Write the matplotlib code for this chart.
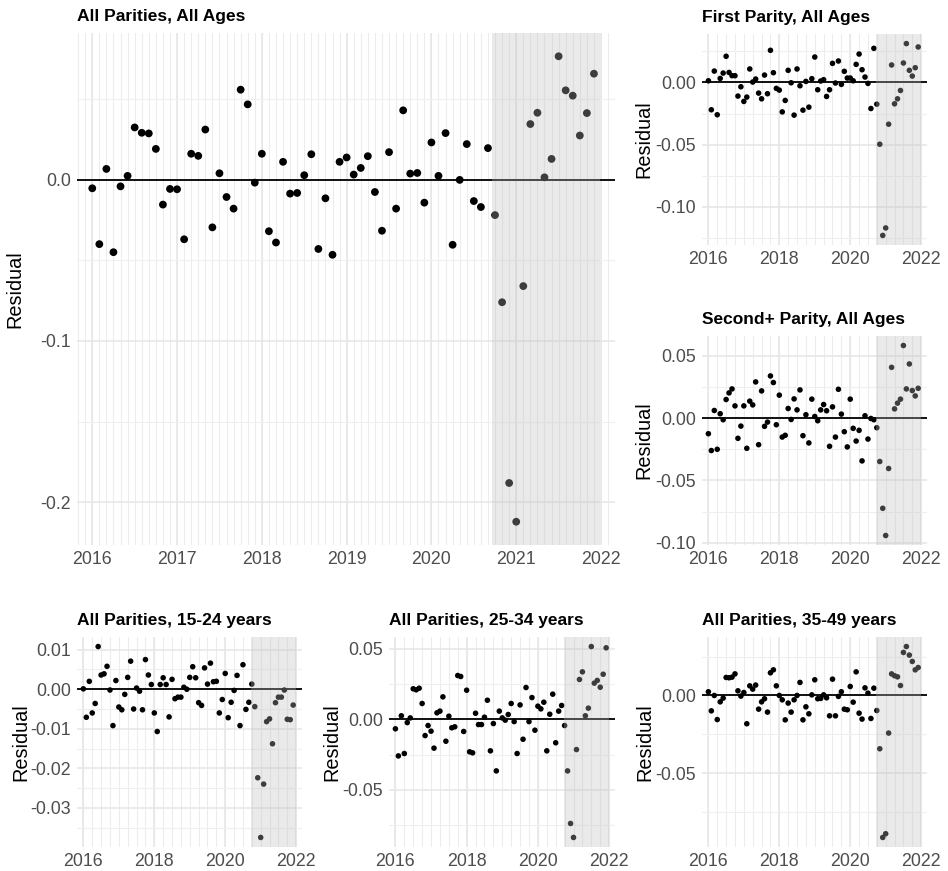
import numpy as np
import matplotlib
matplotlib.use("Agg")
import matplotlib.pyplot as plt

plt.rcParams["font.family"] = ["Liberation Sans", "DejaVu Sans"]

# monthly residuals, Jan 2016 .. Dec 2021
n_months = 72
months = 2016 + np.arange(n_months) / 12

all_all = [
    -0.0054, -0.040, 0.0066, -0.045, -0.0042, 0.0023, 0.0323, 0.029, 0.0286, 0.019, -0.0155, -0.0058,
    -0.006, -0.037, 0.016, 0.0147, 0.031, -0.0296, 0.0039, -0.0108, -0.018, 0.0557, 0.0466, -0.0019,
    0.016, -0.032, -0.039, 0.011, -0.0087, -0.0083, 0.0027, 0.0157, -0.043, -0.0116, -0.0466, 0.011,
    0.0137, 0.0031, 0.0072, 0.0145, -0.0077, -0.0317, 0.017, -0.018, 0.0429, 0.0037, 0.0041, -0.0143,
    0.023, 0.0023, 0.0288, -0.0404, -0.0002, 0.022, -0.0133, -0.017, 0.0195, -0.022, -0.076, -0.188,
    -0.212, -0.066, 0.0344, 0.0414, 0.0014, 0.0128, 0.0764, 0.0553, 0.052, 0.0273, 0.0412, 0.0656,
]
first_all = [
    0.0013, -0.022, 0.0091, -0.026, 0.0032, 0.0075, 0.021, 0.008, 0.0054, 0.0054, -0.011, -0.0035,
    -0.0153, -0.0118, 0.0108, 0.0003, 0.0027, -0.0086, -0.0132, 0.0059, -0.0091, 0.0258, 0.0078, -0.0048,
    -0.0062, -0.0237, -0.0145, 0.0097, -0.0003, -0.0263, 0.0108, -0.0027, -0.0223, 0.0008, -0.0199, 0.003,
    0.0204, -0.0059, 0.0011, 0.0022, -0.0113, -0.0059, 0.0153, -0.0005, 0.0172, -0.0016, 0.0089, 0.0035,
    0.0035, 0.0013, 0.0145, 0.0228, 0.0102, 0.0043, -0.0008, -0.021, 0.0274, -0.0175, -0.0497, -0.123,
    -0.117, -0.0336, 0.014, -0.0172, -0.0132, -0.0065, 0.0156, 0.0312, 0.0097, 0.0051, 0.0118, 0.0285,
]
second_all = [
    -0.0125, -0.026, 0.0061, -0.025, 0.0035, -0.0013, 0.0149, 0.0202, 0.0234, 0.0098, -0.0162, -0.0064,
    0.0098, -0.0242, 0.0136, 0.0106, 0.029, -0.0213, 0.0218, -0.0066, -0.0032, 0.0338, 0.0285, -0.0053,
    0.0184, -0.0152, -0.0138, 0.0077, -0.0011, 0.0154, 0.0066, 0.0226, -0.0141, 0.0027, -0.0199, 0.0152,
    0.0013, -0.0021, 0.0066, 0.0109, 0.0059, -0.0226, 0.009, -0.0152, 0.0231, 0.0032, -0.0109, -0.0231,
    0.0152, -0.0082, -0.0184, -0.0098, -0.0343, 0.0019, -0.0168, -0.0003, -0.0013, -0.0077, -0.0348, -0.0723,
    -0.0941, -0.0404, 0.0407, 0.0074, 0.012, 0.0152, 0.0582, 0.0234, 0.0434, 0.0221, 0.0178, 0.0239,
]
all_15_24 = [
    0.0001, -0.0071, 0.002, -0.006, -0.0036, 0.0108, 0.0036, 0.0039, 0.0058, -0.0002, -0.0092, 0.0022,
    -0.0045, -0.0052, -0.0013, 0.003, 0.0071, -0.005, 0.0003, -0.0005, -0.0052, 0.0075, 0.0036, 0.0012,
    -0.006, -0.0107, 0.0012, 0.0029, 0.0012, -0.007, 0.0025, -0.0024, -0.002, -0.002, 0.0005, 0.0,
    0.003, 0.0057, 0.0029, -0.0034, -0.0041, 0.0054, 0.0013, 0.0066, 0.0019, 0.002, -0.006, -0.0026,
    0.004, -0.0072, -0.0033, -0.0003, 0.0035, -0.0092, 0.0062, -0.0051, -0.0033, 0.0013, -0.0044, -0.0224,
    -0.0375, -0.024, -0.0082, -0.0075, -0.0138, -0.0034, -0.002, -0.002, -0.0002, -0.0076, -0.0077, -0.004,
]
all_25_34 = [
    -0.0068, -0.026, 0.0024, -0.0243, -0.0024, 0.0009, 0.0215, 0.0208, 0.0219, 0.0111, -0.0116, -0.0045,
    -0.0085, -0.0205, 0.0045, 0.0057, 0.0158, -0.0156, 0.0021, -0.0061, -0.0054, 0.0309, 0.0302, -0.0087,
    0.0205, -0.0231, -0.0238, 0.0042, -0.0038, -0.0038, 0.0014, 0.0134, -0.0224, -0.0031, -0.0366, 0.0057,
    0.0009, -0.0007, 0.0033, 0.0111, -0.0017, -0.0243, 0.0101, -0.0142, 0.0224, -0.0017, 0.0153, -0.0078,
    0.0092, 0.0073, 0.012, -0.0224, 0.0035, 0.0177, -0.0167, 0.0057, 0.0097, -0.0045, -0.0366, -0.0738,
    -0.0837, -0.0215, 0.0281, 0.0335, 0.0024, 0.0078, 0.0514, 0.0255, 0.0274, 0.0226, 0.0318, 0.0505,
]
all_35_49 = [
    0.0024, -0.0099, 0.0, -0.0155, -0.0041, -0.0017, 0.0116, 0.0114, 0.0118, 0.0139, 0.003, -0.0004,
    0.0019, -0.0182, 0.0062, 0.0041, 0.0067, -0.0088, -0.0041, -0.0021, -0.0107, 0.0146, 0.0165, 0.0062,
    0.0, -0.0028, -0.0157, -0.0049, -0.0107, -0.0028, 0.0, 0.0084, -0.0157, -0.0073, -0.0118, 0.0004,
    0.0101, -0.0021, -0.0019, 0.0004, -0.0015, -0.0131, 0.0105, -0.0131, -0.0006, 0.0024, -0.0088, -0.0092,
    0.0058, -0.0043, 0.0152, -0.0114, -0.0152, 0.0049, 0.0015, -0.0148, 0.0047, -0.0097, -0.0343, -0.0914,
    -0.089, -0.0242, 0.0139, 0.0127, 0.012, 0.0064, 0.0277, 0.0315, 0.026, 0.0219, 0.0165, 0.018,
]

shade_start, shade_end = 2020.72, 2021.99
x_limits = (2015.82, 2022.165)

W, H = 948, 871

# (title, values, panel box in pixels l,t,r,b, y ticks, y minor, decimals, big, ylabel offset px)
panels = [
    ("All Parities, All Ages", all_all, (77, 33, 615, 545),
     [-0.2, -0.1, 0.0], [-0.15, -0.05, 0.05], 1, True, 62),
    ("First Parity, All Ages", first_all, (702, 34, 927, 245),
     [-0.10, -0.05, 0.0], [-0.125, -0.075, -0.025, 0.025], 2, False, 58),
    ("Second+ Parity, All Ages", second_all, (702, 336, 927, 545),
     [-0.10, -0.05, 0.0, 0.05], [-0.075, -0.025, 0.025], 2, False, 58),
    ("All Parities, 15-24 years", all_15_24, (77, 637, 302, 847),
     [-0.03, -0.02, -0.01, 0.0, 0.01], [-0.035, -0.025, -0.015, -0.005, 0.005], 2, False, 56),
    ("All Parities, 25-34 years", all_25_34, (389, 637, 615, 847),
     [-0.05, 0.0, 0.05], [-0.075, -0.025, 0.025], 2, False, 57),
    ("All Parities, 35-49 years", all_35_49, (702, 637, 927, 847),
     [-0.05, 0.0], [-0.075, -0.025, 0.025], 2, False, 57),
]

fig = plt.figure(figsize=(W / 100, H / 100), dpi=100)

for title, vals, (l, t, r, b), yt, ymin, dec, big, off in panels:
    ax = fig.add_axes([l / W, 1 - b / H, (r - l) / W, (b - t) / H])
    vals = np.array(vals)
    lo, hi = vals.min(), vals.max()
    pad = 0.05 * (hi - lo)
    ax.set_ylim(lo - pad, hi + pad)
    ax.set_xlim(*x_limits)

    # grid
    if big:
        xmaj = np.arange(2016, 2023)
        xmin_ = np.arange(2015 + 10 / 12, 2022.2, 1 / 12)
    else:
        xmaj = np.arange(2016, 2023, 2)
        xmin_ = np.arange(2015.75, 2022.2, 0.25)
    for xv in xmin_:
        if x_limits[0] <= xv <= x_limits[1]:
            ax.axvline(xv, color="#ECECEC", lw=0.75, zorder=0)
    for xv in xmaj:
        ax.axvline(xv, color="#E6E6E6", lw=1.1, zorder=0)
    for yv in ymin:
        ax.axhline(yv, color="#EFEFEF", lw=0.75, zorder=0)
    for yv in yt:
        ax.axhline(yv, color="#E6E6E6", lw=1.1, zorder=0)

    ax.axhline(0, color="black", lw=1.3, zorder=2)
    ms = 5.6 if big else 4.0
    ax.scatter(months, vals, s=ms ** 2, color="black", edgecolors="none", zorder=3)
    ax.axvspan(shade_start, shade_end, color="#BEBEBE", alpha=0.32, lw=0, zorder=4)

    ax.set_xticks(xmaj)
    ax.set_xticklabels([str(y) for y in xmaj])
    ax.set_yticks(yt)
    ax.set_yticklabels(["0." + "0" * dec if abs(v) < 1e-9 else f"{v:.{dec}f}" for v in yt])
    ax.tick_params(length=0, labelsize=12.8, labelcolor="#4D4D4D", pad=4.5)
    for s in ax.spines.values():
        s.set_visible(False)

    ax.set_title(title, loc="left", fontsize=12.5, fontweight="bold", pad=8.5)
    ax.set_ylabel("Residual", fontsize=14.3, va="center")
    ax.yaxis.set_label_coords(-off / (r - l), 0.5)

fig.savefig("out.png", dpi=100)
